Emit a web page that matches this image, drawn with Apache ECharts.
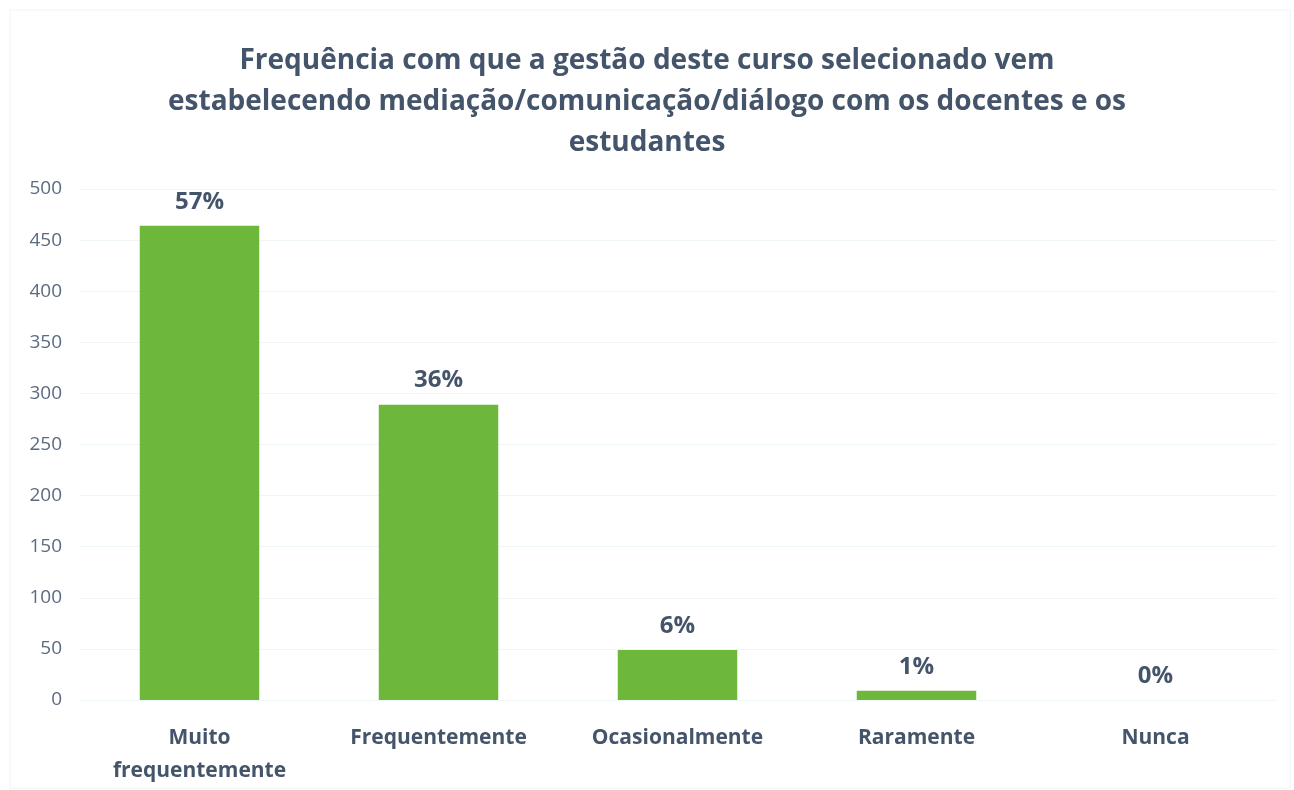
<!DOCTYPE html>
<html>
<head>
<meta charset="utf-8">
<script src="https://cdn.jsdelivr.net/npm/echarts@6/dist/echarts.min.js"></script>
<style>
  html, body { margin: 0; padding: 0; background: #fff; }
  #main { width: 1294px; height: 790px; }
</style>
</head>
<body>
<div id="main"></div>
<script>
// categorias e valores
const categories = ['Muito\nfrequentemente', 'Frequentemente', 'Ocasionalmente', 'Raramente', 'Nunca'];
const values = [464, 289, 49, 9, 0];
const percents = ['57%', '36%', '6%', '1%', '0%'];
const yTicks = [0, 50, 100, 150, 200, 250, 300, 350, 400, 450, 500];

const textColor = '#44546a';
const font = 'Open Sans';

var myChart = echarts.init(document.getElementById('main'));
var option = {
  backgroundColor: '#fff',
  animation: false,
  title: {
    text: 'Frequência com que a gestão deste curso selecionado vem\nestabelecendo mediação/comunicação/diálogo com os docentes e os\nestudantes',
    left: 'center',
    top: 36,
    textStyle: {
      fontFamily: font,
      fontSize: 28,
      fontWeight: 'bold',
      color: textColor,
      lineHeight: 41
    }
  },
  graphic: [{
    type: 'rect',
    shape: { x: 10, y: 10, width: 1280, height: 778 },
    style: { fill: 'none', stroke: '#eef4f7', lineWidth: 1 },
    silent: true
  }],
  grid: {
    left: 80,
    right: 19,
    top: 189,
    bottom: 90
  },
  xAxis: {
    type: 'category',
    data: categories,
    axisLine: { show: false },
    axisTick: { show: false },
    axisLabel: {
      margin: 22,
      fontFamily: font,
      fontSize: 21,
      fontWeight: 'bold',
      color: textColor,
      lineHeight: 33
    }
  },
  yAxis: {
    type: 'value',
    min: yTicks[0],
    max: yTicks[yTicks.length - 1],
    interval: 50,
    axisLine: { show: false },
    axisTick: { show: false },
    axisLabel: {
      margin: 18,
      fontFamily: font,
      fontSize: 19,
      color: '#5b6b80'
    },
    splitLine: { lineStyle: { color: '#eef5f7', width: 1 } }
  },
  series: [{
    type: 'bar',
    data: values,
    barWidth: '50%',
    itemStyle: { color: '#6db83a' },
    label: {
      show: true,
      position: 'top',
      distance: 12,
      fontFamily: font,
      fontSize: 24,
      fontWeight: 'bold',
      color: textColor,
      formatter: function (p) { return percents[p.dataIndex]; }
    }
  }]
};
myChart.setOption(option);
</script>
</body>
</html>
